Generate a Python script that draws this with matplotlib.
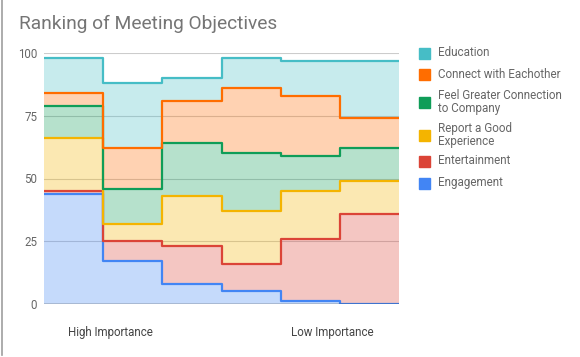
import numpy as np
import matplotlib
matplotlib.use('Agg')
import matplotlib.pyplot as plt
from matplotlib.patches import Rectangle
from matplotlib.lines import Line2D
plt.rcParams['font.family'] = ['Roboto', 'DejaVu Sans']

# data: share per objective in each ranking column (stacked from bottom)
columns = [1, 2, 3, 4, 5, 6]
engagement    = [44, 17, 8, 5, 1, 0]
entertainment = [1, 8, 15, 11, 25, 36]
report_good   = [21, 7, 20, 21, 19, 13]
feel_greater  = [13, 14, 21, 23, 14, 13]
connect       = [5, 16, 17, 26, 24, 12]
education     = [14, 26, 9, 12, 14, 23]

series_names = ['Engagement', 'Entertainment', 'Report a Good\nExperience',
                'Feel Greater Connection\nto Company', 'Connect with Eachother', 'Education']
series_vals = [engagement, entertainment, report_good, feel_greater, connect, education]
colors = ['#4285F4', '#DB4437', '#F4B400', '#0F9D58', '#FF6D00', '#46BDC6']

x_tick_labels = ['High Importance', 'Low Importance']
y_ticks = [0, 25, 50, 75, 100]

W, H = 580, 357
fig = plt.figure(figsize=(W/100, H/100), dpi=100)
ax = fig.add_axes([44/W, 1-304/H, (399-44)/W, (304-53)/H])

edges = np.arange(len(columns)+1)
bottom = np.zeros(len(columns))
tops = []
for vals, c in zip(series_vals, colors):
    top = bottom + np.array(vals)
    b_ext = np.append(bottom, bottom[-1])
    t_ext = np.append(top, top[-1])
    ax.fill_between(edges, b_ext, t_ext, step='post', color=c, alpha=0.3, lw=0, zorder=1)
    tops.append((t_ext, c))
    bottom = top
for t_ext, c in tops:
    ax.step(edges, t_ext, where='post', color=c, lw=1.6, zorder=3, solid_joinstyle='round')

ax.set_xlim(0, len(columns))
ax.set_ylim(0, 100)
ax.set_yticks(y_ticks)
ax.set_yticklabels([str(v) for v in y_ticks])
for v in y_ticks[1:]:
    ax.axhline(v, color='#cccccc', lw=0.8, zorder=0)
ax.axhline(0, color='#333333', lw=1.0, zorder=4)
ax.set_xticks([1.13, 4.88])
ax.set_xticklabels(x_tick_labels)
ax.tick_params(axis='both', length=0, labelsize=8.3, colors='#444444')
ax.tick_params(axis='y', pad=5, colors='#666666')
ax.tick_params(axis='x', pad=16)
for s in ax.spines.values():
    s.set_visible(False)

fig.text(19/W, 1-24/H, 'Ranking of Meeting Objectives', fontsize=13.8, color='#757575', va='center', ha='left')

# legend, top to bottom
leg_y = [53, 74, 102, 135, 161, 183]
for i, yy in enumerate(leg_y):
    k = len(series_names)-1-i
    fig.patches.append(Rectangle((419/W, 1-(yy+6)/H), 11/W, 11/H, transform=fig.transFigure,
                                 color=colors[k]))
    fig.text(438/W, 1-yy/H, series_names[k], fontsize=8.4, color='#666666', va='center', ha='left',
             linespacing=0.95)

fig.lines.append(Line2D([1.5/W, 1.5/W], [1-355/H, 1], transform=fig.transFigure, color='#9e9e9e', lw=1.2))

fig.savefig('out.png', dpi=100, facecolor='white')
